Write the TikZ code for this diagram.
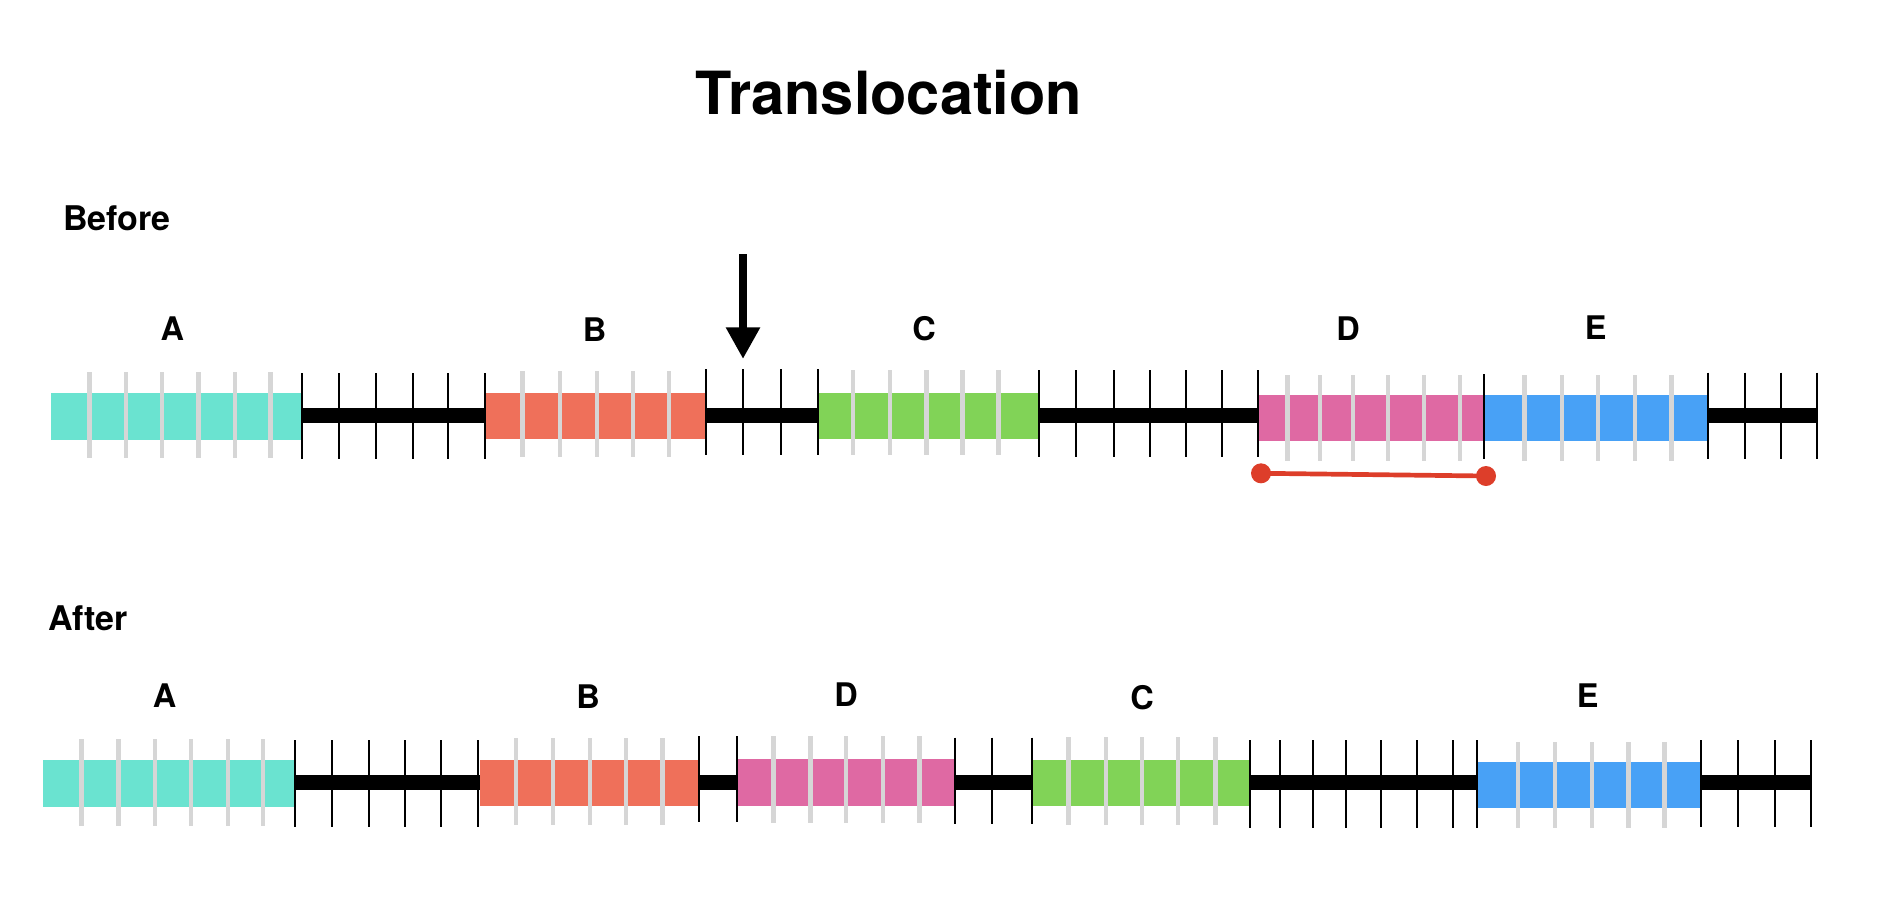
\documentclass[tikz,border=0pt]{standalone}
\usepackage{fontspec}
\setmainfont{TeX Gyre Heros}
\usetikzlibrary{arrows.meta}
\definecolor{cA}{RGB}{106,227,208}
\definecolor{cB}{RGB}{239,112,90}
\definecolor{cC}{RGB}{129,211,87}
\definecolor{cD}{RGB}{223,105,163}
\definecolor{cE}{RGB}{72,161,246}
\definecolor{gline}{RGB}{214,214,214}
\definecolor{redl}{RGB}{221,62,42}
\tikzset{
  bar/.style={line width=15pt, black},
  gtick/.style={line width=4.3pt, gline},
  btick/.style={line width=2pt, black},
  lbl/.style={anchor=base, inner sep=0pt, font=\fontsize{32.5}{38}\selectfont\bfseries},
  head/.style={inner sep=0pt, font=\fontsize{34}{40}\selectfont\bfseries},
  dot/.style={circle, fill=redl, minimum size=20pt, inner sep=0pt},
}
\begin{document}
\begin{tikzpicture}[x=1pt,y=-1pt]
\useasboundingbox (0,0) rectangle (1894,916);
% title
\node[anchor=base, inner sep=0pt, font=\fontsize{59.5}{66}\selectfont\bfseries] (title) at (889,114) {Translocation};
\node[head, anchor=base west] (before) at (63,230) {Before};
\node[head, anchor=base west] (after) at (48,630.7) {After};

% ===== Before row =====
\draw[bar] (301,415.7) -- (1817,415.7);
\fill[cA] (51,393) rectangle (301,440);
\fill[cB] (486.3,393) rectangle (706.3,438.7);
\fill[cC] (817.5,393) rectangle (1038.4,438.7);
\fill[cD] (1258,395) rectangle (1484,440.7);
\fill[cE] (1484,395) rectangle (1707,440.7);
\foreach \x in {89.4,126.3,162.1,198.4,235.3,270.5} \draw[gtick] (\x,372) -- (\x,458);
\foreach \x in {522.6,560,596.9,633.2,668.9} \draw[gtick] (\x,371) -- (\x,457);
\foreach \x in {853.3,890,926.6,962.5,998.5} \draw[gtick] (\x,370) -- (\x,455);
\foreach \x in {1287.4,1320,1352.7,1388,1423.9,1459.9} \draw[gtick] (\x,375) -- (\x,460.7);
\foreach \x in {1524.4,1561.7,1598.3,1635,1671.6} \draw[gtick] (\x,375) -- (\x,461);
\foreach \x in {302,339.4,376.2,412.5,448.3,484.6} \draw[btick] (\x,373) -- (\x,459);
\foreach \x in {706.3,742.7,780.6,817.5} \draw[btick] (\x,369) -- (\x,455);
\foreach \x in {1039.1,1076.4,1113.6,1149.6,1185.6,1222.2,1258.1} \draw[btick] (\x,370) -- (\x,457);
\draw[btick] (1484,374) -- (1484,459);
\foreach \x in {1707.5,1744.8,1781.4,1817.4} \draw[btick] (\x,372.7) -- (\x,459.3);

\node[lbl] (tA) at (172.4,340) {A};
\node[lbl] (tB) at (594.7,341) {B};
\node[lbl] (tC) at (924,340) {C};
\node[lbl] (tD) at (1348,340) {D};
\node[lbl] (tE) at (1595.7,339) {E};

% arrow
\coordinate (arrtop) at (743,254);
\coordinate (arrtip) at (743,359);
\draw[line width=8pt, -{Triangle[width=32.3pt,length=31.7pt]}] (arrtop) -- (arrtip);

% red segment
\node[dot] (r1) at (1261,473.3) {};
\node[dot] (r2) at (1486,476) {};
\draw[redl, line width=4.7pt] (r1.center) -- (r2.center);

% ===== After row =====
\draw[bar] (294,782.8) -- (1811,782.8);
\fill[cA] (43.4,760) rectangle (294,807);
\fill[cB] (479.6,760) rectangle (697.7,805.7);
\fill[cD] (736.6,759) rectangle (955.4,805.7);
\fill[cC] (1031.9,760) rectangle (1249.8,806);
\fill[cE] (1477.4,762) rectangle (1699.5,807.7);
\foreach \x in {81.6,118.6,155,190.7,227.7,262.8} \draw[gtick] (\x,739) -- (\x,826);
\foreach \x in {516,553,590,626.3,662.6} \draw[gtick] (\x,738) -- (\x,824.7);
\foreach \x in {773.6,810.6,846.3,883.3,919.6} \draw[gtick] (\x,736) -- (\x,823);
\foreach \x in {1068.6,1105.9,1142,1178.2,1215.5} \draw[gtick] (\x,737) -- (\x,824.7);
\foreach \x in {1517.7,1555,1591.8,1628.5,1664.6} \draw[gtick] (\x,742) -- (\x,828);
\foreach \x in {294.6,331.6,368.6,405,441.3,478.3} \draw[btick] (\x,740) -- (\x,827);
\foreach \x in {699,736.6} \draw[btick] (\x,736) -- (\x,821.7);
\foreach \x in {955.4,992.3,1031.9} \draw[btick] (\x,737.7) -- (\x,823.7);
\foreach \x in {1250.4,1279.9,1313,1346.1,1380.5,1416.6,1453.3,1477.4} \draw[btick] (\x,740) -- (\x,827.7);
\foreach \x in {1700.8,1738,1774.8,1811} \draw[btick] (\x,740) -- (\x,826.7);

\node[lbl] (bA) at (164.5,707) {A};
\node[lbl] (bB) at (588,708) {B};
\node[lbl] (bD) at (846,706) {D};
\node[lbl] (bC) at (1142,709) {C};
\node[lbl] (bE) at (1587.6,707) {E};
\end{tikzpicture}
\end{document}
